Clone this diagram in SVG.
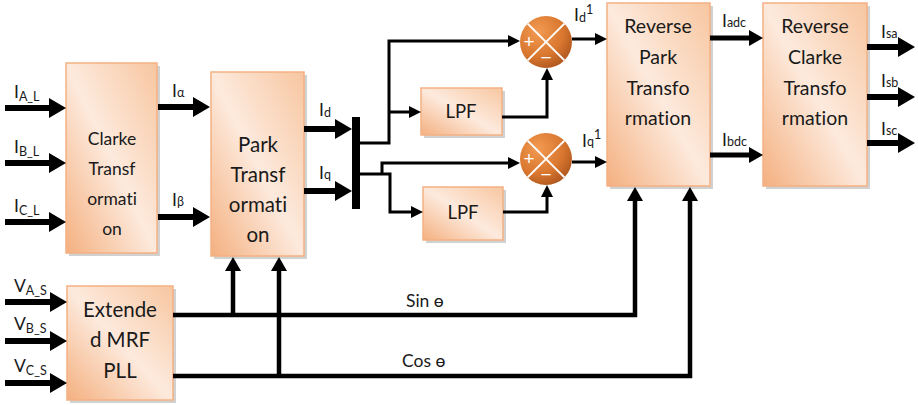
<svg xmlns="http://www.w3.org/2000/svg" width="918" height="405" viewBox="0 0 918 405">
<style>
.box{stroke:#F4B183;stroke-width:1.5;fill:url(#bg)}
.sh{fill:#BDBDBD;opacity:0.7}
.bt{font-family:Lato,"Liberation Sans",sans-serif;fill:#1a1a1a;text-anchor:middle;font-variant-ligatures:none}
.lb{font-family:Lato,"Liberation Sans",sans-serif;fill:#1a1a1a;font-size:17.5px}
.sub{font-size:12.5px}
.w{stroke:#000;fill:none;stroke-linejoin:miter}
.t6{stroke-width:6}
.t5{stroke-width:5}
.t4{stroke-width:4.5}
.t3{stroke-width:3}
.x{stroke:#fff;stroke-width:2}
.pm{font-family:"Liberation Sans",sans-serif;fill:#fff;font-size:19px;text-anchor:middle}
</style>
<defs>
<linearGradient id="bg" x1="0" y1="1" x2="1" y2="0">
<stop offset="0" stop-color="#F4B080"/>
<stop offset="0.5" stop-color="#FDEADD"/>
<stop offset="1" stop-color="#F7C6A0"/>
</linearGradient>
<radialGradient id="cg" cx="0.35" cy="0.3" r="0.8">
<stop offset="0" stop-color="#F29A52"/>
<stop offset="0.6" stop-color="#D9772F"/>
<stop offset="1" stop-color="#A8521C"/>
</radialGradient>
<marker id="hb" markerUnits="userSpaceOnUse" viewBox="0 -10 17 20" markerWidth="17" markerHeight="20" refX="0" refY="0" orient="auto" overflow="visible"><path d="M0,-10 L17,0 L0,10 z" fill="#000"/></marker>
<marker id="hm" markerUnits="userSpaceOnUse" viewBox="0 -8 14 16" markerWidth="14" markerHeight="16" refX="0" refY="0" orient="auto" overflow="visible"><path d="M0,-8 L14,0 L0,8 z" fill="#000"/></marker>
<marker id="hs" markerUnits="userSpaceOnUse" viewBox="0 -6 12 12" markerWidth="12" markerHeight="12" refX="0" refY="0" orient="auto" overflow="visible"><path d="M0,-6 L12,0 L0,6 z" fill="#000"/></marker>
</defs>
<rect width="918" height="405" fill="#fff"/>

<g id="clarke">
<rect class="sh" x="69" y="66" width="91" height="190"/>
<rect class="box" x="66" y="63" width="91" height="190"/>
<text class="bt" font-size="17.5"><tspan x="112" y="145">Clarke</tspan><tspan x="112" y="175">Transf</tspan><tspan x="112" y="205">ormati</tspan><tspan x="112" y="235">on</tspan></text>
</g>
<g id="park">
<rect class="sh" x="214" y="75" width="93" height="184"/>
<rect class="box" x="211" y="72" width="93" height="184"/>
<text class="bt" font-size="20.5"><tspan x="258" y="152">Park</tspan><tspan x="258" y="182">Transf</tspan><tspan x="258" y="212">ormati</tspan><tspan x="258" y="242">on</tspan></text>
</g>
<g id="lpf1">
<rect class="sh" x="424" y="91" width="81" height="47"/>
<rect class="box" x="421" y="88" width="81" height="47"/>
<text class="bt" font-size="18.5" x="461" y="118">LPF</text>
</g>
<g id="lpf2">
<rect class="sh" x="426" y="190" width="80" height="53"/>
<rect class="box" x="423" y="187" width="80" height="53"/>
<text class="bt" font-size="18.5" x="463" y="219">LPF</text>
</g>
<g id="sum1">
<circle cx="546" cy="42" r="26" fill="url(#cg)"/>
<line class="x" x1="527.6" y1="23.6" x2="564.4" y2="60.4"/>
<line class="x" x1="564.4" y1="23.6" x2="527.6" y2="60.4"/>
<text class="pm" x="529" y="48">+</text>
<text class="pm" x="546" y="64">−</text>
</g>
<g id="sum2">
<circle cx="546" cy="159" r="26" fill="url(#cg)"/>
<line class="x" x1="527.6" y1="140.6" x2="564.4" y2="177.4"/>
<line class="x" x1="564.4" y1="140.6" x2="527.6" y2="177.4"/>
<text class="pm" x="529" y="165">+</text>
<text class="pm" x="546" y="181">−</text>
</g>
<g id="revpark">
<rect class="sh" x="610" y="6" width="103" height="183"/>
<rect class="box" x="607" y="3" width="103" height="183"/>
<text class="bt" font-size="19.5"><tspan x="658" y="33">Reverse</tspan><tspan x="658" y="64">Park</tspan><tspan x="658" y="95">Transfo</tspan><tspan x="658" y="125">rmation</tspan></text>
</g>
<g id="revclarke">
<rect class="sh" x="766" y="6" width="104" height="183"/>
<rect class="box" x="763" y="3" width="104" height="183"/>
<text class="bt" font-size="19.5"><tspan x="815" y="33">Reverse</tspan><tspan x="815" y="64">Clarke</tspan><tspan x="815" y="95">Transfo</tspan><tspan x="815" y="125">rmation</tspan></text>
</g>
<g id="pll">
<rect class="sh" x="70" y="289" width="106" height="114"/>
<rect class="box" x="67" y="286" width="106" height="114"/>
<text class="bt" font-size="20.5"><tspan x="120" y="317">Extende</tspan><tspan x="120" y="347">d MRF</tspan><tspan x="120" y="378">PLL</tspan></text>
</g>

<g id="connectors">
<line class="w t6" x1="5" y1="108" x2="49" y2="108" marker-end="url(#hb)"/>
<line class="w t6" x1="5" y1="163" x2="49" y2="163" marker-end="url(#hb)"/>
<line class="w t6" x1="5" y1="222" x2="49" y2="222" marker-end="url(#hb)"/>
<line class="w t6" x1="158" y1="107" x2="193" y2="107" marker-end="url(#hb)"/>
<line class="w t6" x1="158" y1="217" x2="193" y2="217" marker-end="url(#hb)"/>
<line class="w t6" x1="304" y1="129" x2="335" y2="129" marker-end="url(#hb)"/>
<line class="w t6" x1="304" y1="191" x2="335" y2="191" marker-end="url(#hb)"/>
<rect x="352" y="117" width="8" height="92" fill="#000"/>
<polyline class="w t3" points="360,143 389,143 389,41 508,41" marker-end="url(#hs)"/>
<line class="w t3" x1="389" y1="112" x2="409" y2="112" marker-end="url(#hs)"/>
<polyline class="w t3" points="502,117 547,117 547,80" marker-end="url(#hs)"/>
<line class="w t3" x1="572" y1="39" x2="595" y2="39" marker-end="url(#hs)"/>
<polyline class="w t3" points="360,174 390,174 390,212 411,212" marker-end="url(#hs)"/>
<polyline class="w t3" points="382,174 382,163 508,163" marker-end="url(#hs)"/>
<polyline class="w t3" points="503,212 547,212 547,197" marker-end="url(#hs)"/>
<line class="w t3" x1="572" y1="162" x2="595" y2="162" marker-end="url(#hs)"/>
<line class="w t5" x1="710" y1="38" x2="749" y2="38" marker-end="url(#hm)"/>
<line class="w t5" x1="710" y1="155" x2="749" y2="155" marker-end="url(#hm)"/>
<line class="w t6" x1="867" y1="47" x2="898" y2="47" marker-end="url(#hb)"/>
<line class="w t6" x1="867" y1="97" x2="898" y2="97" marker-end="url(#hb)"/>
<line class="w t6" x1="867" y1="143" x2="898" y2="143" marker-end="url(#hb)"/>
<line class="w t6" x1="5" y1="302" x2="50" y2="302" marker-end="url(#hb)"/>
<line class="w t6" x1="5" y1="341" x2="50" y2="341" marker-end="url(#hb)"/>
<line class="w t6" x1="5" y1="383" x2="50" y2="383" marker-end="url(#hb)"/>
<polyline class="w t4" points="173,315 635,315 635,201" marker-end="url(#hm)"/>
<polyline class="w t4" points="173,376 690,376 690,201" marker-end="url(#hm)"/>
<line class="w t4" x1="233" y1="315" x2="233" y2="271" marker-end="url(#hm)"/>
<line class="w t4" x1="279" y1="376" x2="279" y2="271" marker-end="url(#hm)"/>
</g>

<g id="labels">
<text class="lb" x="14" y="98">I<tspan class="sub" dy="3">A_L</tspan></text>
<text class="lb" x="14" y="153">I<tspan class="sub" dy="3">B_L</tspan></text>
<text class="lb" x="14" y="212">I<tspan class="sub" dy="3">C_L</tspan></text>
<text class="lb" x="172" y="97">I<tspan class="sub" dy="0">α</tspan></text>
<text class="lb" x="172" y="206">I<tspan class="sub" dy="0">β</tspan></text>
<text class="lb" x="319" y="116">I<tspan class="sub" dy="1">d</tspan></text>
<text class="lb" x="319" y="179">I<tspan class="sub" dy="0">q</tspan></text>
<text class="lb" x="574" y="21">I<tspan class="sub" dy="1">d</tspan><tspan class="sub" dy="-8">1</tspan></text>
<text class="lb" x="582" y="147">I<tspan class="sub" dy="-1">q</tspan><tspan class="sub" dy="-7">1</tspan></text>
<text class="lb" x="722" y="27">I<tspan class="sub" dy="0">adc</tspan></text>
<text class="lb" x="722" y="146">I<tspan class="sub" dy="0">bdc</tspan></text>
<text class="lb" x="881" y="38">I<tspan class="sub" dy="0">sa</tspan></text>
<text class="lb" x="881" y="87">I<tspan class="sub" dy="0">sb</tspan></text>
<text class="lb" x="881" y="135">I<tspan class="sub" dy="0">sc</tspan></text>
<text class="lb" x="14" y="292">V<tspan class="sub" dy="3">A_S</tspan></text>
<text class="lb" x="14" y="330">V<tspan class="sub" dy="3">B_S</tspan></text>
<text class="lb" x="14" y="372">V<tspan class="sub" dy="3">C_S</tspan></text>
<text class="lb" x="406" y="307">Sin ө</text>
<text class="lb" x="402" y="367">Cos ө</text>
</g>
</svg>
